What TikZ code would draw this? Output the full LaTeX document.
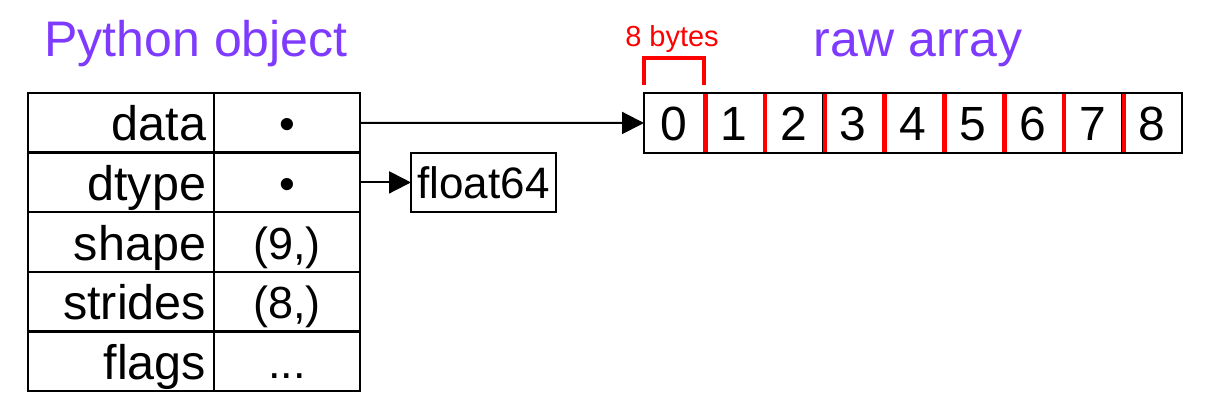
\documentclass[tikz,border=0pt]{standalone}
\usepackage{fontspec}
\setmainfont{Liberation Sans}
\usetikzlibrary{positioning, arrows.meta}
\definecolor{pyviolet}{HTML}{7F3AFF}
\tikzstyle{keycell} = [rectangle, draw, line width=2.5pt, outer sep=0pt,
inner xsep=8pt, inner ysep=0pt, text width=170pt, align=right,
minimum height=59.6pt, text height=36pt, text depth=0pt, font=\fontsize{48.5}{48.5}\selectfont]
\tikzstyle{valcell} = [rectangle, draw, line width=2.5pt, outer sep=0pt,
inner sep=0pt, minimum width=146pt, minimum height=59.6pt,
text height=34pt, text depth=0pt, font=\fontsize{45}{45}\selectfont]
\tikzstyle{arrcell} = [rectangle, draw, line width=2pt, outer sep=0pt,
inner sep=0pt, minimum width=59.8pt, minimum height=60pt,
text height=35pt, text depth=0pt, font=\fontsize{48}{48}\selectfont]
\tikzstyle{typebox} = [rectangle, draw, line width=2pt, outer sep=0pt,
inner sep=0pt, minimum width=145pt, minimum height=59pt,
text height=33pt, text depth=0pt, font=\fontsize{44}{44}\selectfont]
\tikzstyle{titlelabel} = [text=pyviolet, inner sep=0pt, anchor=base, font=\fontsize{50}{50}\selectfont]
\tikzstyle{bytelabel} = [text=red, inner sep=0pt, anchor=base, font=\fontsize{29}{29}\selectfont]
\tikzstyle{bytesep} = [red, line width=4.5pt, shorten <=1pt, shorten >=1pt]
\tikzstyle{bytebracket} = [red, line width=4pt]
\tikzstyle{arrow} = [line width=2pt, -{Triangle[length=22pt,width=22pt]}]

\begin{document}
\begin{tikzpicture}[x=1pt, y=-1pt]
                \useasboundingbox (0,0) rectangle (1207,408);
                % Python object
                \node (pyobj) [titlelabel] at (196,56) {Python object};
                \node (data) [keycell] at (121,122.8) {data};
                \node (dtype) [keycell, below=0pt of data] {dtype};
                \node (shape) [keycell, below=0pt of dtype] {shape};
                \node (strides) [keycell, below=0pt of shape] {strides};
                \node (flags) [keycell, below=0pt of strides] {flags};
                \node (datav) [valcell, right=0pt of data] {•};
                \node (dtypev) [valcell, right=0pt of dtype] {•};
                \node (shapev) [valcell, right=0pt of shape] {(9,)};
                \node (stridesv) [valcell, right=0pt of strides] {(8,)};
                \node (flagsv) [valcell, right=0pt of flags] {...};
                \node (f64) [typebox, right=51pt of dtypev] {float64};
                % raw array
                \node (raw) [titlelabel] at (918,56) {raw array};
                \foreach \i in {0,...,8}
                        \node (a\i) [arrcell] at ({673.9+59.8*\i},123) {\i};
                \foreach \i in {0,...,7}
                        \draw [bytesep] ([xshift=1.5pt]a\i.north east) -- ([xshift=1.5pt]a\i.south east);
                \draw [bytebracket] ([yshift=8pt]a0.north west) |- ([yshift=35pt]a0.north) -| ([yshift=8pt]a0.north east);
                \node (bytes) [bytelabel] at (672,46) {8 bytes};
                \draw [arrow] (datav) -- (a0);
                \draw [arrow] (dtypev) -- (f64);
        \end{tikzpicture}
\end{document}
